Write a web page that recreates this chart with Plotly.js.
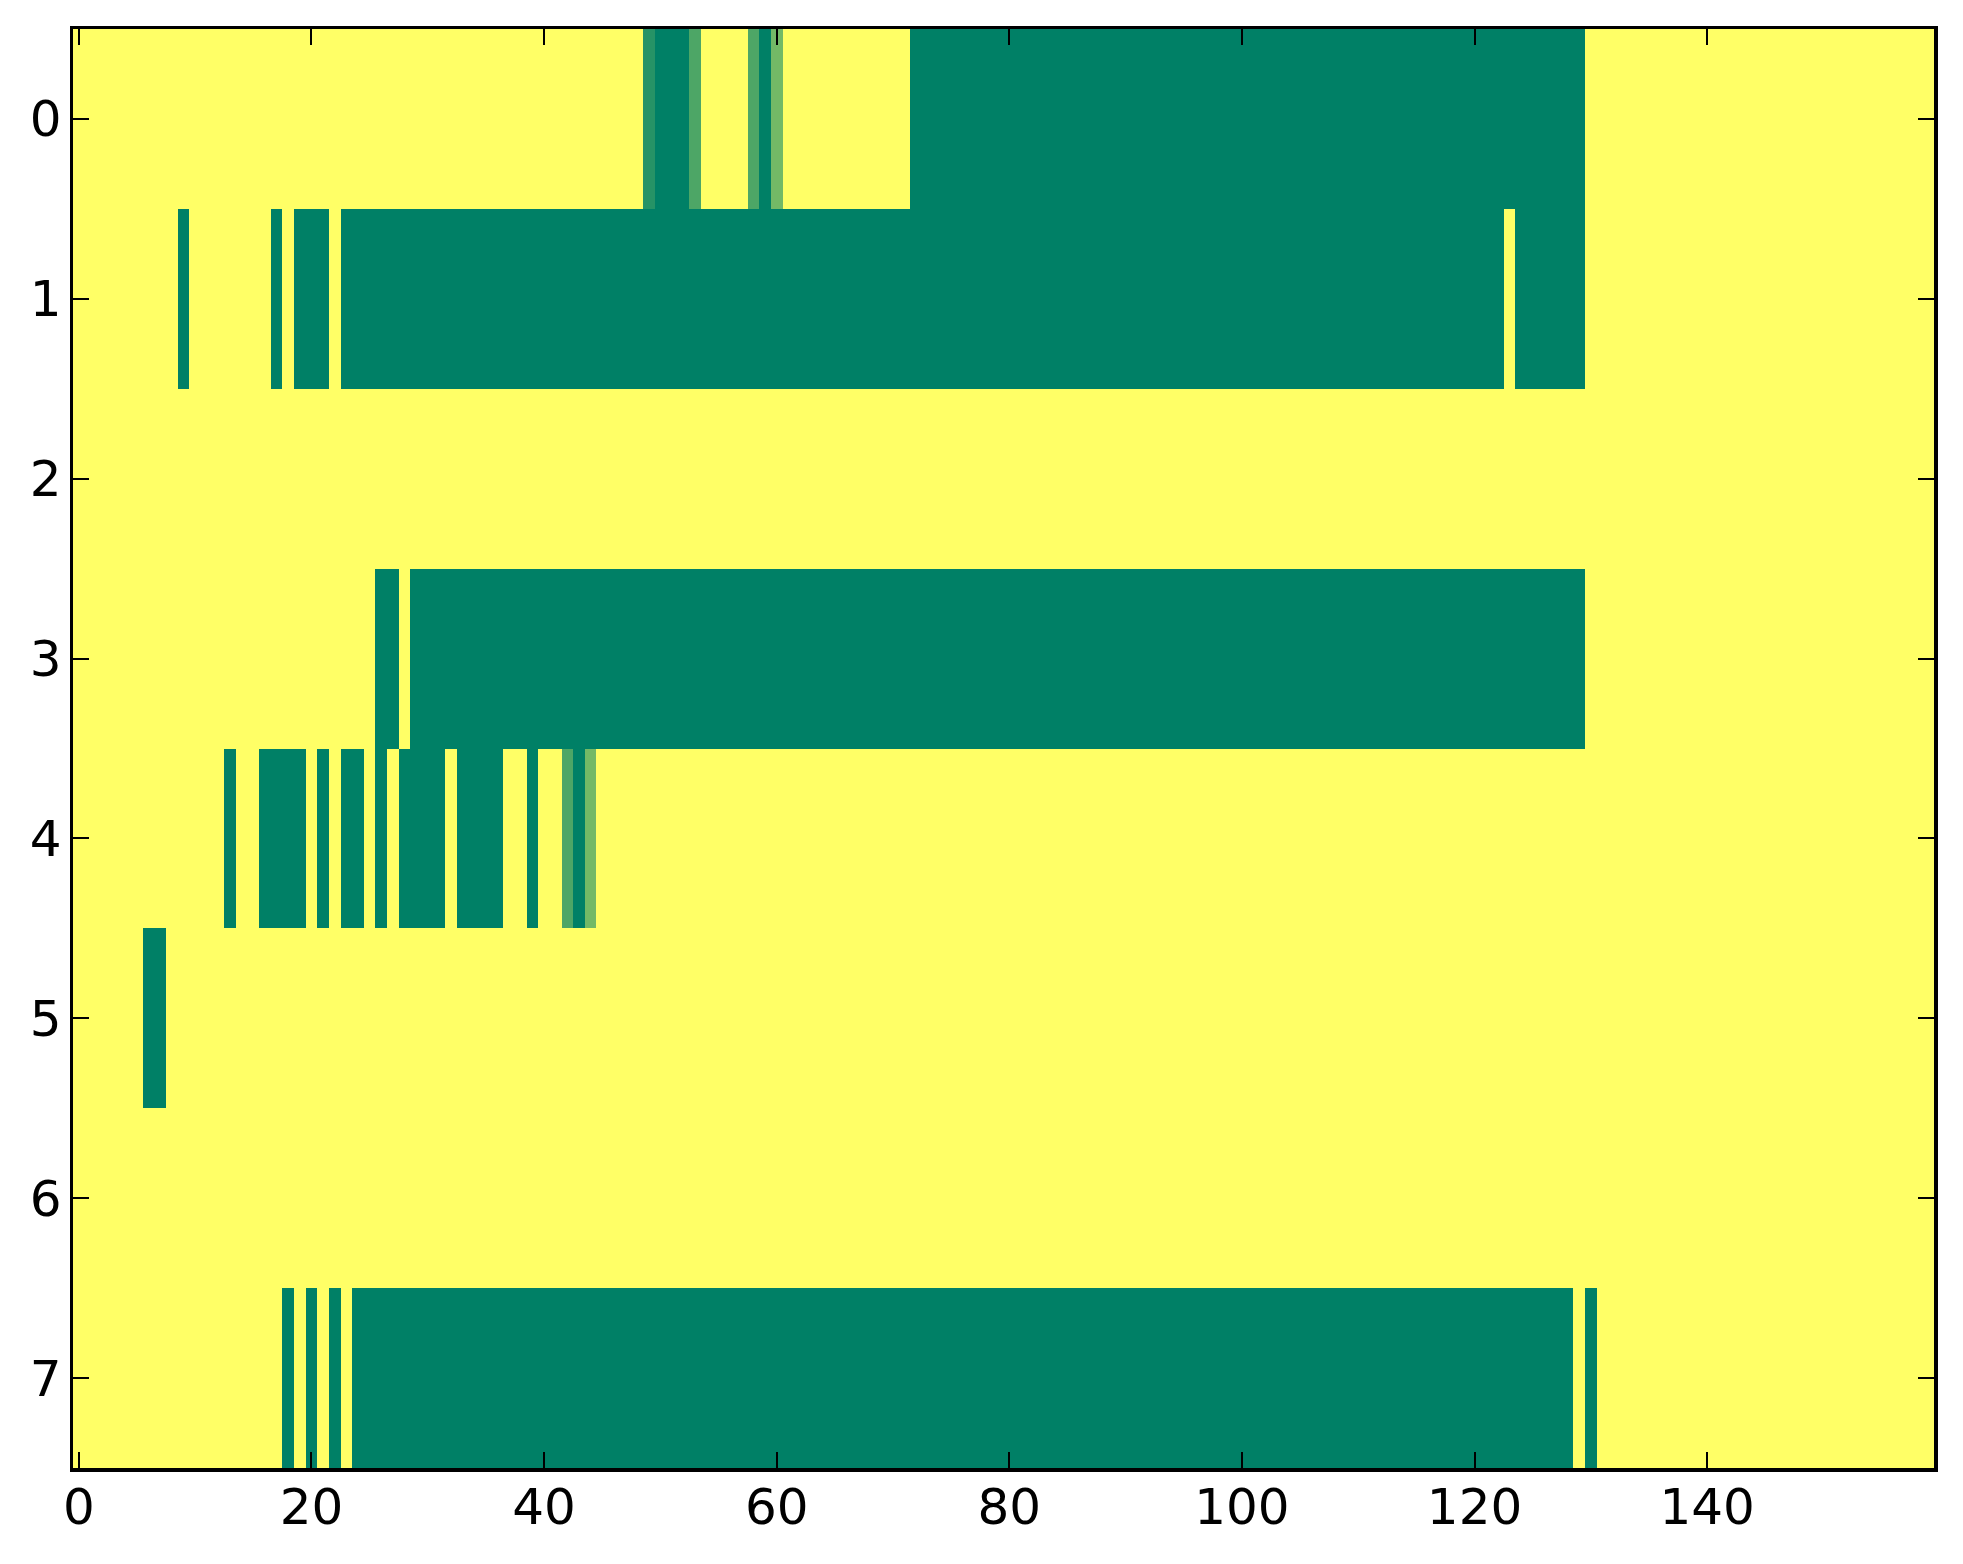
<!DOCTYPE html>
<html>
<head>
<meta charset="utf-8">
<script src="https://cdn.plot.ly/plotly-3.0.1.min.js"></script>
<style>html,body{margin:0;padding:0;background:#fff;}</style>
</head>
<body>
<div id="chart" style="width:1963px;height:1564px;"></div>
<script>
// Row labels (y) and column indices are implicit 0..7 and 0..159
var rowLabels = [0, 1, 2, 3, 4, 5, 6, 7];
var xTickVals = [0, 20, 40, 60, 80, 100, 120, 140];

var row0 = [
  0,0,0,0,0,0,0,0,0,0,  0,0,0,0,0,0,0,0,0,0,
  0,0,0,0,0,0,0,0,0,0,  0,0,0,0,0,0,0,0,0,0,
  0,0,0,0,0,0,0,0,0,0.85, 1,1,1,0.7,0,0,0,0,0.7,1,
  0.55,0,0,0,0,0,0,0,0,0, 0,0,1,1,1,1,1,1,1,1,
  1,1,1,1,1,1,1,1,1,1,  1,1,1,1,1,1,1,1,1,1,
  1,1,1,1,1,1,1,1,1,1,  1,1,1,1,1,1,1,1,1,1,
  1,1,1,1,1,1,1,1,1,1,  0,0,0,0,0,0,0,0,0,0,
  0,0,0,0,0,0,0,0,0,0,  0,0,0,0,0,0,0,0,0,0
];
var row1 = [
  0,0,0,0,0,0,0,0,0,1,  0,0,0,0,0,0,0,1,0,1,
  1,1,0,1,1,1,1,1,1,1,  1,1,1,1,1,1,1,1,1,1,
  1,1,1,1,1,1,1,1,1,1,  1,1,1,1,1,1,1,1,1,1,
  1,1,1,1,1,1,1,1,1,1,  1,1,1,1,1,1,1,1,1,1,
  1,1,1,1,1,1,1,1,1,1,  1,1,1,1,1,1,1,1,1,1,
  1,1,1,1,1,1,1,1,1,1,  1,1,1,1,1,1,1,1,1,1,
  1,1,1,0,1,1,1,1,1,1,  0,0,0,0,0,0,0,0,0,0,
  0,0,0,0,0,0,0,0,0,0,  0,0,0,0,0,0,0,0,0,0
];
var row2 = [
  0,0,0,0,0,0,0,0,0,0,  0,0,0,0,0,0,0,0,0,0,
  0,0,0,0,0,0,0,0,0,0,  0,0,0,0,0,0,0,0,0,0,
  0,0,0,0,0,0,0,0,0,0,  0,0,0,0,0,0,0,0,0,0,
  0,0,0,0,0,0,0,0,0,0,  0,0,0,0,0,0,0,0,0,0,
  0,0,0,0,0,0,0,0,0,0,  0,0,0,0,0,0,0,0,0,0,
  0,0,0,0,0,0,0,0,0,0,  0,0,0,0,0,0,0,0,0,0,
  0,0,0,0,0,0,0,0,0,0,  0,0,0,0,0,0,0,0,0,0,
  0,0,0,0,0,0,0,0,0,0,  0,0,0,0,0,0,0,0,0,0
];
var row3 = [
  0,0,0,0,0,0,0,0,0,0,  0,0,0,0,0,0,0,0,0,0,
  0,0,0,0,0,0,1,1,0,1,  1,1,1,1,1,1,1,1,1,1,
  1,1,1,1,1,1,1,1,1,1,  1,1,1,1,1,1,1,1,1,1,
  1,1,1,1,1,1,1,1,1,1,  1,1,1,1,1,1,1,1,1,1,
  1,1,1,1,1,1,1,1,1,1,  1,1,1,1,1,1,1,1,1,1,
  1,1,1,1,1,1,1,1,1,1,  1,1,1,1,1,1,1,1,1,1,
  1,1,1,1,1,1,1,1,1,1,  0,0,0,0,0,0,0,0,0,0,
  0,0,0,0,0,0,0,0,0,0,  0,0,0,0,0,0,0,0,0,0
];
var row4 = [
  0,0,0,0,0,0,0,0,0,0,  0,0,0,1,0,0,1,1,1,1,
  0,1,0,1,1,0,1,0,1,1,  1,1,0,1,1,1,1,0,0,1,
  0,0,0.7,1,0.55,0,0,0,0,0, 0,0,0,0,0,0,0,0,0,0,
  0,0,0,0,0,0,0,0,0,0,  0,0,0,0,0,0,0,0,0,0,
  0,0,0,0,0,0,0,0,0,0,  0,0,0,0,0,0,0,0,0,0,
  0,0,0,0,0,0,0,0,0,0,  0,0,0,0,0,0,0,0,0,0,
  0,0,0,0,0,0,0,0,0,0,  0,0,0,0,0,0,0,0,0,0,
  0,0,0,0,0,0,0,0,0,0,  0,0,0,0,0,0,0,0,0,0
];
var row5 = [
  0,0,0,0,0,0,1,1,0,0,  0,0,0,0,0,0,0,0,0,0,
  0,0,0,0,0,0,0,0,0,0,  0,0,0,0,0,0,0,0,0,0,
  0,0,0,0,0,0,0,0,0,0,  0,0,0,0,0,0,0,0,0,0,
  0,0,0,0,0,0,0,0,0,0,  0,0,0,0,0,0,0,0,0,0,
  0,0,0,0,0,0,0,0,0,0,  0,0,0,0,0,0,0,0,0,0,
  0,0,0,0,0,0,0,0,0,0,  0,0,0,0,0,0,0,0,0,0,
  0,0,0,0,0,0,0,0,0,0,  0,0,0,0,0,0,0,0,0,0,
  0,0,0,0,0,0,0,0,0,0,  0,0,0,0,0,0,0,0,0,0
];
var row6 = [
  0,0,0,0,0,0,0,0,0,0,  0,0,0,0,0,0,0,0,0,0,
  0,0,0,0,0,0,0,0,0,0,  0,0,0,0,0,0,0,0,0,0,
  0,0,0,0,0,0,0,0,0,0,  0,0,0,0,0,0,0,0,0,0,
  0,0,0,0,0,0,0,0,0,0,  0,0,0,0,0,0,0,0,0,0,
  0,0,0,0,0,0,0,0,0,0,  0,0,0,0,0,0,0,0,0,0,
  0,0,0,0,0,0,0,0,0,0,  0,0,0,0,0,0,0,0,0,0,
  0,0,0,0,0,0,0,0,0,0,  0,0,0,0,0,0,0,0,0,0,
  0,0,0,0,0,0,0,0,0,0,  0,0,0,0,0,0,0,0,0,0
];
var row7 = [
  0,0,0,0,0,0,0,0,0,0,  0,0,0,0,0,0,0,0,1,0,
  1,0,1,0,1,1,1,1,1,1,  1,1,1,1,1,1,1,1,1,1,
  1,1,1,1,1,1,1,1,1,1,  1,1,1,1,1,1,1,1,1,1,
  1,1,1,1,1,1,1,1,1,1,  1,1,1,1,1,1,1,1,1,1,
  1,1,1,1,1,1,1,1,1,1,  1,1,1,1,1,1,1,1,1,1,
  1,1,1,1,1,1,1,1,1,1,  1,1,1,1,1,1,1,1,1,1,
  1,1,1,1,1,1,1,1,1,0,  1,0,0,0,0,0,0,0,0,0,
  0,0,0,0,0,0,0,0,0,0,  0,0,0,0,0,0,0,0,0,0
];

var zRows = [row0, row1, row2, row3, row4, row5, row6, row7];

var trace = {
  type: 'heatmap',
  z: zRows,
  y: rowLabels,
  zmin: 0,
  zmax: 1,
  zsmooth: false,
  colorscale: [[0, 'rgb(255,255,102)'], [1, 'rgb(0,128,102)']],
  showscale: false,
  hoverinfo: 'none'
};

var axisCommon = {
  showline: true,
  linecolor: '#000',
  linewidth: 3.5,
  mirror: 'ticks',
  ticks: 'inside',
  ticklen: 16,
  tickwidth: 2,
  tickcolor: '#000',
  showgrid: false,
  zeroline: false,
  tickfont: {family: 'DejaVu Sans, sans-serif', size: 50, color: '#000'}
};

var layout = {
  width: 1963,
  height: 1564,
  margin: {l: 73, r: 29, t: 29, b: 96, pad: 0},
  paper_bgcolor: '#fff',
  plot_bgcolor: '#fff',
  showlegend: false,
  xaxis: Object.assign({}, axisCommon, {
    range: [-0.5, 159.5],
    tickmode: 'array',
    tickvals: xTickVals,
    ticktext: xTickVals.map(String),
    ticklabelstandoff: -8
  }),
  yaxis: Object.assign({}, axisCommon, {
    range: [7.5, -0.5],
    tickmode: 'array',
    tickvals: rowLabels,
    ticktext: rowLabels.map(String),
    ticklabelstandoff: -2
  })
};

Plotly.newPlot('chart', [trace], layout, {displayModeBar: false, staticPlot: true});
</script>
</body>
</html>
